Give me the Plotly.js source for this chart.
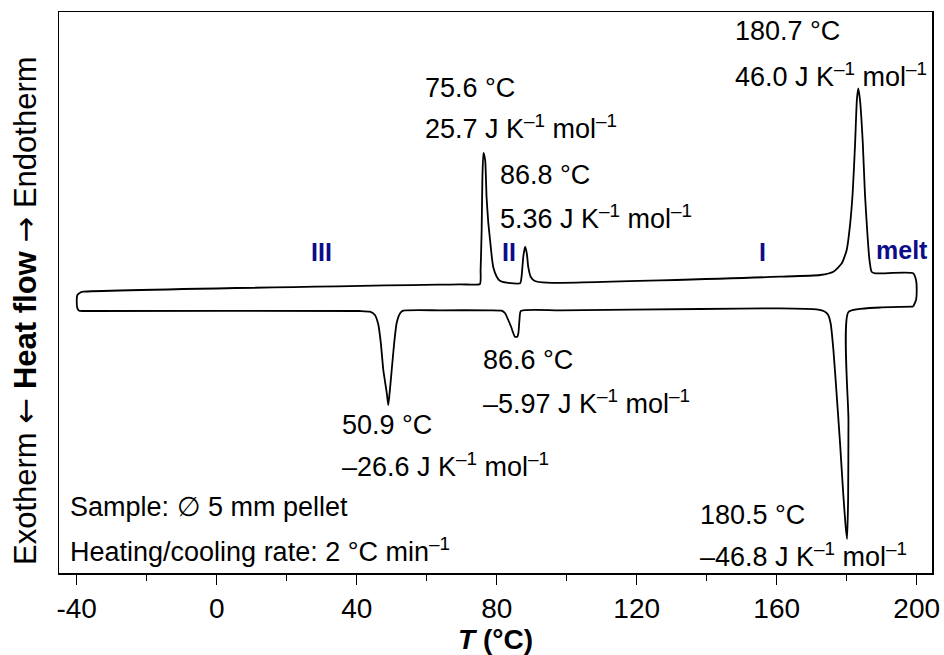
<!DOCTYPE html>
<html><head><meta charset="utf-8">
<script src="https://cdn.plot.ly/plotly-3.0.1.min.js"></script>
<style>html,body{margin:0;padding:0;background:#fff}#chart{width:944px;height:655px}</style>
</head><body><div id="chart"></div>
<script>
// Heating run (endotherm up), temperature in °C, heat flow in arbitrary units
const heatT = [-39.1,-38.1,69.5,75.2,75.4,75.7,75.9,76.2,76.7,77.1,77.6,78.1,78.6,79.0,80.0,80.9,82.9,86.7,87.1,87.6,88.1,88.6,89.0,89.7,90.9,94.3,160.9,172.4,176.2,178.6,180.0,180.9,181.7,182.4,182.9,183.3,183.8,184.6,185.2,185.9,186.5,187.1,188.1,199.0,199.8,200.0,199.8,199.0];
const heatQ = [0.73,0.83,1.57,1.6,3.0,7.0,12.0,14.7,14.0,10.3,7.7,6.0,4.3,3.3,2.33,1.93,1.73,1.67,2.33,4.33,5.33,4.67,3.33,2.33,1.9,1.73,2.33,2.5,2.83,3.67,5.0,7.33,10.67,15.67,20.0,21.17,20.0,15.67,10.67,6.67,4.0,2.83,2.67,2.67,2.0,1.0,0.0,-0.67];
// Cooling run (exotherm down), from high to low temperature
const coolT = [199.0,189.5,180.5,180.5,180.4,180.1,179.7,179.0,178.1,177.1,176.2,175.4,174.7,173.8,171.4,160.9,138.1,98.1,86.9,86.5,86.2,85.9,85.2,84.6,84.1,83.3,82.4,81.4,78.1,63.8,53.3,52.4,51.4,50.7,50.0,49.3,49.0,48.6,47.6,46.9,46.2,45.2,43.8,40.9,-36.2,-38.2,-39.3,-39.8,-40.0,-39.8,-39.1];
const coolQ = [-0.67,-0.75,-1.2,-12.0,-20.0,-23.9,-22.67,-19.33,-14.33,-9.33,-5.0,-2.33,-1.5,-1.17,-0.93,-0.83,-0.9,-1.03,-1.1,-2.0,-3.3,-3.67,-3.67,-3.17,-2.67,-2.0,-1.33,-1.07,-1.03,-1.03,-1.07,-1.33,-2.33,-4.33,-7.0,-9.67,-10.5,-9.33,-7.0,-4.33,-2.5,-1.5,-1.17,-1.1,-1.1,-1.1,-1.07,-0.83,-0.17,0.5,0.73];

const tickVals = [-40,0,40,80,120,160,200];
const tickText = ['-40','0','40','80','120','160','200'];
const phaseLabels = ['III','II','I','melt'];
const peakTemps = ['180.7 °C','75.6 °C','86.8 °C','86.6 °C','50.9 °C','180.5 °C'];
const peakEnth = ['46.0','25.7','5.36','–5.97','–26.6','–46.8'];
const infoLines = ['Sample: ∅ 5 mm pellet','Heating/cooling rate: 2 °C min<sup>–1</sup>'];

const FONT = 'Liberation Sans, Arial, Helvetica, sans-serif';
const L = 59, R = 932, TOP = 12, BOT = 573;
function pxX(x){return (x-L)/(R-L);}
function pxY(y){return (BOT-y)/(BOT-TOP);}
const unit = ' J K<sup>–1</sup> mol<sup>–1</sup>';
const arrow = a => '<span style="font-family:DejaVu Sans">'+a+'</span>';

function txt(text, x, y, opts){
  return Object.assign({text:text, xref:'paper', yref:'paper', x:pxX(x), y:pxY(y),
    xanchor:'left', yanchor:'middle', showarrow:false,
    font:{family:FONT, size:27, color:'#000'}}, opts||{});
}
const peakPos = [[733,31,75],[423,88,127],[498,175,217],[481,360,402],[340,425,465],[698,515,555]];
const annotations = [];
peakTemps.forEach((t,i)=>{
  const p = peakPos[i];
  annotations.push(txt(t, p[0], p[1]));
  annotations.push(txt(peakEnth[i]+unit, p[0], p[2]));
});
const phasePos = [[321,252],[509,252],[762,252],[902,250]];
phaseLabels.forEach((t,i)=>{
  annotations.push(txt('<b>'+t+'</b>', phasePos[i][0], phasePos[i][1],
    {xanchor:'center', font:{family:FONT, size:25, color:'#0d0d8a'}}));
});
annotations.push(txt(infoLines[0], 68, 507));
annotations.push(txt(infoLines[1], 68, 550));
// y-axis title (placed as rotated text to match the reference position)
annotations.push(txt('Exotherm '+arrow('←')+' <b>Heat flow</b> '+arrow('→')+' Endotherm', 25, 311,
  {xanchor:'center', yanchor:'middle', textangle:-90, font:{family:FONT, size:31, color:'#000'}}));

const traces = [
  {x:heatT, y:heatQ, mode:'lines', line:{color:'#000', width:1.8, shape:'spline', smoothing:0.5}, hoverinfo:'skip'},
  {x:coolT, y:coolQ, mode:'lines', line:{color:'#000', width:1.8, shape:'spline', smoothing:0.5}, hoverinfo:'skip'}
];

const layout = {
  width:944, height:655,
  margin:{l:L, r:944-R, t:TOP, b:655-BOT, autoexpand:false},
  paper_bgcolor:'#fff', plot_bgcolor:'#fff',
  showlegend:false,
  font:{family:FONT, color:'#000'},
  xaxis:{
    range:[-45.06,204.37], tickmode:'array', tickvals:tickVals, ticktext:tickText,
    ticks:'outside', ticklen:10, tickwidth:1.5, tickcolor:'#000',
    tickfont:{family:FONT, size:28, color:'#000'},
    minor:{tickmode:'linear', tick0:-40, dtick:20, ticks:'outside', ticklen:6, tickwidth:1.5, tickcolor:'#000', showgrid:false},
    showline:true, linecolor:'#000', linewidth:1.5, mirror:true,
    showgrid:false, zeroline:false,
    title:{text:'<b><i>T</i> (°C)</b>', font:{family:FONT, size:28, color:'#000'}, standoff:4}
  },
  yaxis:{
    range:[-27.3,28.8], showticklabels:false, ticks:'',
    showline:true, linecolor:'#000', linewidth:1.5, mirror:true,
    showgrid:false, zeroline:false,
    title:{text:''}
  },
  annotations:annotations
};
Plotly.newPlot('chart', traces, layout, {displayModeBar:false, staticPlot:true});
</script>
</body></html>
